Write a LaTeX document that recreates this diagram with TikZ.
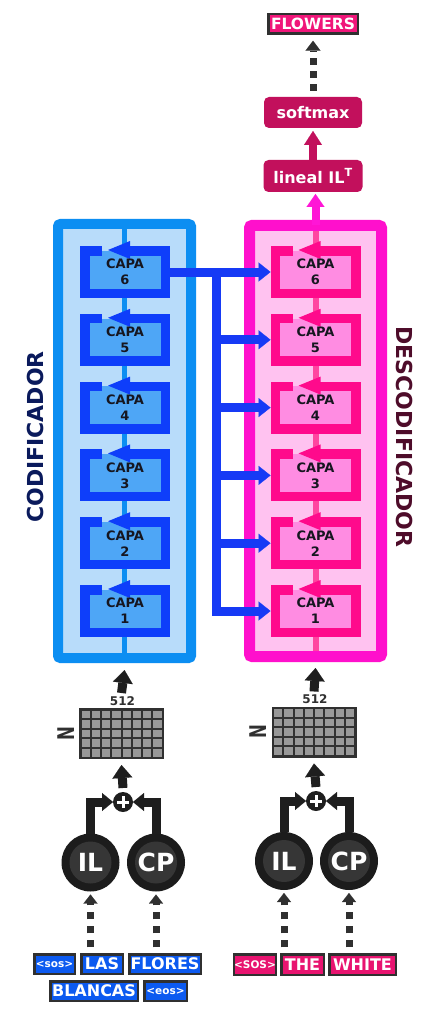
\documentclass[tikz,border=0pt]{standalone}
\usepackage{fontspec}
\setmainfont{DejaVu Sans}
\usetikzlibrary{arrows.meta,calc}
\definecolor{encout}{RGB}{12,142,242}
\definecolor{encin}{RGB}{184,220,250}
\definecolor{encframe}{RGB}{14,62,250}
\definecolor{encfill}{RGB}{78,166,246}
\definecolor{decout}{RGB}{255,16,204}
\definecolor{decin}{RGB}{255,194,240}
\definecolor{decline}{RGB}{255,70,160}
\definecolor{decframe}{RGB}{255,10,140}
\definecolor{decfill}{RGB}{255,140,226}
\definecolor{busblue}{RGB}{22,58,245}
\definecolor{crim}{RGB}{194,16,92}
\definecolor{topmag}{RGB}{255,22,214}
\definecolor{tokblue}{RGB}{12,90,240}
\definecolor{tokpink}{RGB}{232,20,112}
\definecolor{flowpink}{RGB}{240,22,122}
\definecolor{darkg}{RGB}{48,48,48}
\definecolor{ink}{RGB}{30,30,30}
\definecolor{cellg}{RGB}{152,152,152}
\definecolor{circout}{RGB}{28,28,28}
\definecolor{circin}{RGB}{54,54,54}
\definecolor{codtext}{RGB}{10,26,92}
\definecolor{dectext}{RGB}{78,12,42}
\definecolor{captext}{RGB}{22,22,32}
\begin{document}
\begin{tikzpicture}[x=1pt,y=-1pt,
  every node/.style={inner sep=0pt, outer sep=0pt},
  encbox/.style={draw=encout, fill=encin, line width=10pt, rounded corners=2.5pt, minimum width=133pt, minimum height=434pt},
  decbox/.style={draw=decout, fill=decin, line width=11pt, rounded corners=2.5pt, minimum width=132pt, minimum height=431pt},
  layer/.style={minimum width=90pt, minimum height=52pt, align=center, text=captext, font=\bfseries\fontsize{13}{16}\selectfont},
  eframe/.style={draw=encframe, line width=9.5pt, line join=miter},
  dframe/.style={draw=decframe, line width=9.5pt, line join=miter},
  busarrow/.style={draw=busblue, line width=9pt, line join=miter, -{Triangle[length=12pt,width=19pt,line width=0.1pt]}},
  inkarrow/.style={draw=ink, line width=9pt, -{Triangle[length=13pt,width=20pt,line width=0.1pt]}},
  elbow/.style={draw=ink, line width=9pt, line join=miter, -{Triangle[length=11pt,width=18pt,line width=0.1pt]}},
  dotarrow/.style={draw=darkg, line width=7pt, dash pattern=on 7pt off 7pt, -{Triangle[length=9pt,width=14pt,line width=0.1pt]}},
  tok/.style={draw=darkg, line width=2.5pt, text=white, font=\bfseries\fontsize{16}{16}\selectfont, minimum height=19.5pt},
  smalltok/.style={tok, font=\bfseries\fontsize{10.5}{11}\selectfont},
  crimbox/.style={fill=crim, rounded corners=5pt, text=white, font=\bfseries\fontsize{16}{16}\selectfont},
  gridbox/.style={fill=darkg, minimum width=85pt, minimum height=51pt},
  circ/.style={circle, fill=circout, minimum size=58pt},
  circtxt/.style={text=white, font=\bfseries\fontsize{25}{25}\selectfont},
  pluscirc/.style={circle, fill=ink, minimum size=20pt},
  sidelbl/.style={font=\bfseries\fontsize{22}{22}\selectfont},
  dimlbl/.style={text=darkg, font=\bfseries\fontsize{12}{12}\selectfont},
  nlbl/.style={text=darkg, font=\bfseries\fontsize{23}{23}\selectfont, rotate=90}
]
\fill[white] (0,0) rectangle (440,1024);
\useasboundingbox (0,0) rectangle (440,1024);

% big boxes
\node[encbox] (enc) at (124.5,441) {};
\node[decbox] (dec) at (315.5,441) {};
\draw[encout, line width=5.5pt] ([yshift=-5pt]enc.north) -- ([yshift=5pt]enc.south);
\draw[decline, line width=6pt] ([yshift=-5.5pt]dec.north) -- ([yshift=5.5pt]dec.south);

% layers
\foreach \i in {1,...,6}{
  \pgfmathsetmacro\cy{272+(6-\i)*67.8}
  % encoder
  \fill[encfill] (125-40.25,\cy-21.25) rectangle (125+40.25,\cy+21.25);
  \draw[eframe] (125-23,\cy-21.25) -- (125-40.25,\cy-21.25) -- (125-40.25,\cy+21.25) -- (125+40.25,\cy+21.25) -- (125+40.25,\cy-21.25) -- (125+3,\cy-21.25);
  \fill[encframe] (125-17,\cy-22) -- (125+5,\cy-31) -- (125+5,\cy-13) -- cycle;
  \node[layer] (e\i) at (125,\cy) {CAPA\\\i};
  % decoder
  \fill[decfill] (315.5-40.25,\cy-21.25) rectangle (315.5+40.25,\cy+21.25);
  \draw[dframe] (315.5-23,\cy-21.25) -- (315.5-40.25,\cy-21.25) -- (315.5-40.25,\cy+21.25) -- (315.5+40.25,\cy+21.25) -- (315.5+40.25,\cy-21.25) -- (315.5+3,\cy-21.25);
  \fill[decframe] (315.5-17,\cy-22) -- (315.5+5,\cy-31) -- (315.5+5,\cy-13) -- cycle;
  \node[layer] (d\i) at (315.5,\cy) {CAPA\\\i};
}

% bus from encoder to decoder
\coordinate (busx) at (216,0);
\draw[busarrow] (e6.east) -- (d6.west);
\draw[busarrow] (e6.east -| busx) -- (e1.east -| busx) -- (d1.west);
\foreach \i in {2,...,5}{
  \draw[busarrow] (d\i.west -| busx) -- (d\i.west);
}

% side labels
\node[sidelbl, text=codtext, rotate=90] (codl) at (35,437) {CODIFICADOR};
\node[sidelbl, text=dectext, rotate=-90] (decl) at (405,437) {DESCODIFICADOR};

% top part
\node[crimbox, minimum width=99pt, minimum height=32pt] (lin) at (313,176) {lineal IL\textsuperscript{T}};
\node[crimbox, minimum width=98pt, minimum height=31pt] (soft) at (313,112.5) {softmax};
\node[draw=darkg, line width=2.5pt, fill=flowpink, text=white, font=\bfseries\fontsize{15.5}{16}\selectfont, minimum width=89.5pt, minimum height=19.5pt] (flow) at (313,24) {FLOWERS};
\draw[draw=topmag, line width=8pt, shorten >=2pt, -{Triangle[length=13pt,width=18pt,line width=0.1pt]}] (dec.north) -- (dec.north |- lin.south);
\draw[draw=crim, line width=8.5pt, shorten >=3pt, -{Triangle[length=14pt,width=18pt,line width=0.1pt]}] (lin.north) -- (soft.south);
\draw[draw=darkg, line width=7pt, dash pattern=on 7pt off 6pt, -{Triangle[length=10pt,width=15pt,line width=0.1pt]}] ([yshift=6pt]soft.north) -- ([yshift=-7pt]flow.south);

% grids
\node[gridbox] (gE) at (121.5,733.5) {};
\node[gridbox] (gD) at (314,732) {};
\foreach \g in {gE,gD}{
  \foreach \a in {0,...,7}{
    \foreach \b in {0,...,4}{
      \fill[cellg] ($(\g.north west)+(2.5+\a*10.25,2.5+\b*9.6)$) rectangle +(8.25,7.6);
    }
  }
}
\node[dimlbl] (dimE) at ($(gE.north)+(1,-7)$) {512};
\node[dimlbl] (dimD) at ($(gD.north)+(1,-7)$) {512};
\node[nlbl] (nE) at (66,734) {\scalebox{0.72}[1]{N}};
\node[nlbl] (nD) at (258,732) {\scalebox{0.72}[1]{N}};

\draw[inkarrow] ([yshift=15pt]gE.north) -- ([yshift=-12pt]enc.south);
\draw[inkarrow] ([yshift=15pt]gD.north) -- ([yshift=-11.5pt]dec.south);

% plus nodes
\node[pluscirc] (plE) at (123,802) {};
\node[pluscirc] (plD) at (316,801) {};
\foreach \p in {plE,plD}{
  \draw[white, line width=3pt] ($(\p)+(-6,0)$) -- ($(\p)+(6,0)$);
  \draw[white, line width=3pt] ($(\p)+(0,-6)$) -- ($(\p)+(0,6)$);
}
\draw[inkarrow] ([yshift=4pt]plE.north) -- ([yshift=-6pt]gE.south);
\draw[inkarrow] ([yshift=4pt]plD.north) -- ([yshift=-6pt]gD.south);

% IL / CP circles
\node[circ] (ilE) at (90.5,862.5) {};
\node[circ] (cpE) at (156,862.5) {};
\node[circ] (ilD) at (284,861) {};
\node[circ] (cpD) at (349,861) {};
\foreach \c/\t in {ilE/IL,cpE/CP,ilD/IL,cpD/CP}{
  \fill[circin] (\c.center) circle (21);
  \node[circtxt] at (\c.center) {\t};
}
\draw[elbow] (ilE.north) -- (ilE.north |- plE.west) -- (plE.west);
\draw[elbow] (cpE.north) -- (cpE.north |- plE.east) -- (plE.east);
\draw[elbow] (ilD.north) -- (ilD.north |- plD.west) -- (plD.west);
\draw[elbow] (cpD.north) -- (cpD.north |- plD.east) -- (plD.east);

% tokens encoder
\node[smalltok, fill=tokblue, minimum width=40.5pt] (tsos) at (54.5,964) {<sos>};
\node[tok, fill=tokblue, minimum width=41.5pt] (tlas) at (102,964) {LAS};
\node[tok, fill=tokblue, minimum width=71.5pt] (tflo) at (165,964) {FLORES};
\node[tok, fill=tokblue, minimum width=87.5pt] (tbla) at (94,991) {BLANCAS};
\node[smalltok, fill=tokblue, minimum width=42.5pt] (teos) at (165.5,991) {<eos>};
% tokens decoder
\node[smalltok, fill=tokpink, minimum width=41.5pt, minimum height=20.5pt] (dsos) at (255,964.5) {<SOS>};
\node[tok, fill=tokpink, minimum width=42.5pt, minimum height=20.5pt] (dthe) at (302.5,964.5) {THE};
\node[tok, fill=tokpink, minimum width=66.5pt, minimum height=20.5pt] (dwhi) at (362.5,964.5) {WHITE};

% dotted arrows from tokens to circles
\draw[dotarrow, shorten >=3pt] ($(ilE.south |- tlas.north)+(0,-7)$) -- (ilE.south);
\draw[dotarrow, shorten >=3pt] ($(cpE.south |- tflo.north)+(0,-7)$) -- (cpE.south);
\draw[dotarrow, shorten >=3pt] ($(ilD.south |- dthe.north)+(0,-7)$) -- (ilD.south);
\draw[dotarrow, shorten >=3pt] ($(cpD.south |- dwhi.north)+(0,-7)$) -- (cpD.south);
\end{tikzpicture}
\end{document}
